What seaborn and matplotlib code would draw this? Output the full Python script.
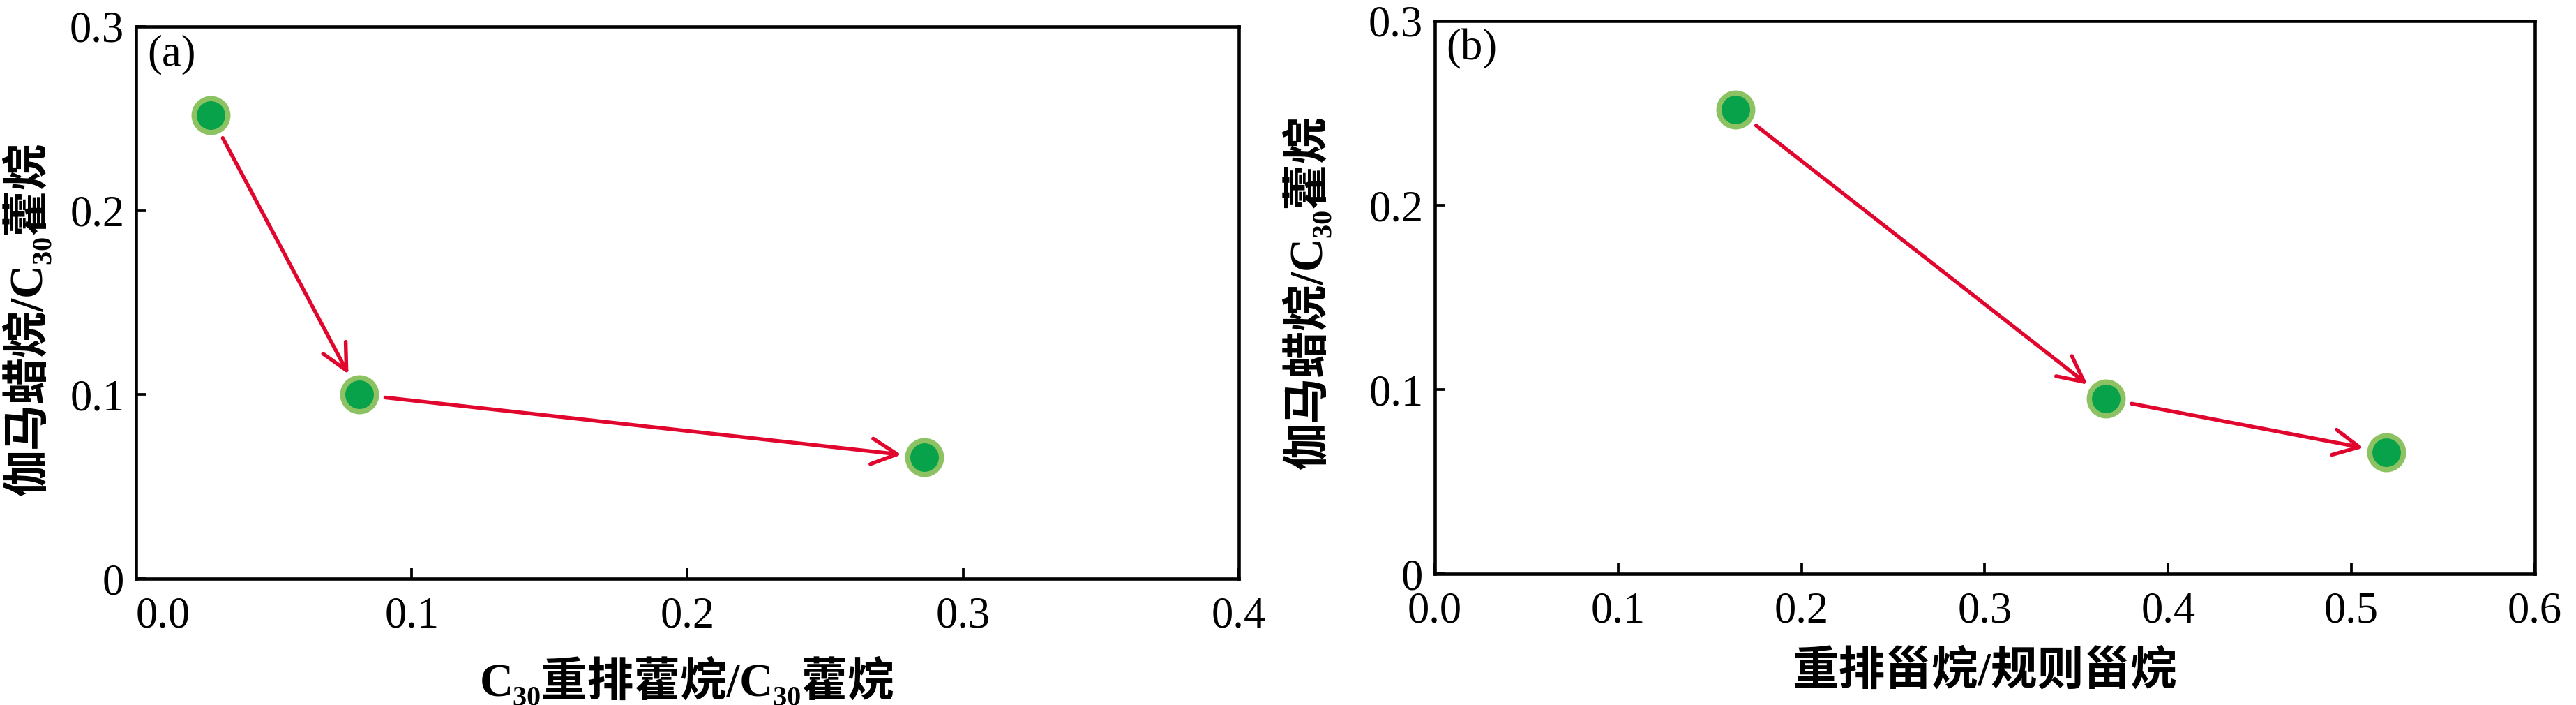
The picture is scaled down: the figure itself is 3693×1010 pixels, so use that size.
import numpy as np
import pandas as pd
import seaborn as sns
import matplotlib
matplotlib.use('Agg')
from matplotlib import pyplot as plt

# (a) C30 diahopane/C30 hopane vs gammacerane/C30 hopane
a_x = [0.027, 0.081, 0.286]
a_y = [0.252, 0.100, 0.066]
# (b) rearranged sterane/regular sterane vs gammacerane/C30 hopane
b_x = [0.164, 0.366, 0.519]
b_y = [0.252, 0.095, 0.066]

a_xticks = [0.0, 0.1, 0.2, 0.3, 0.4]
b_xticks = [0.0, 0.1, 0.2, 0.3, 0.4, 0.5, 0.6]
yticks = [0.0, 0.1, 0.2, 0.3]
ytick_labels = ['0', '0.1', '0.2', '0.3']

a_xlabel = 'C₃₀重排藿烷/C₃₀藿烷'
b_xlabel = '重排甾烷/规则甾烷'
ylabel = '伽马蜡烷/C₃₀藿烷'

POINT = '#08A24A'
EDGE = '#8DC262'
ARROW = '#E0062E'

sns.set_theme(style='ticks')
plt.rcParams['font.family'] = ['Liberation Serif', 'Noto Sans CJK SC', 'DejaVu Sans']
plt.rcParams['axes.unicode_minus'] = False


def draw_panel(ax, xs, ys, xticks, xlabel, tag, ylab_pos, xlab_y):
    df = pd.DataFrame({'x': xs, 'y': ys})
    sns.scatterplot(data=df, x='x', y='y', ax=ax, s=135, color=POINT,
                    edgecolor=EDGE, linewidth=1.8, zorder=3)
    # arrows between consecutive points
    for i in range(len(xs) - 1):
        ax.annotate('', xy=(xs[i + 1], ys[i + 1]), xytext=(xs[i], ys[i]),
                    arrowprops=dict(arrowstyle='->', color=ARROW, lw=1.3,
                                    shrinkA=9, shrinkB=8, mutation_scale=22),
                    zorder=2)
    ax.set_xlim(xticks[0], xticks[-1])
    ax.set_ylim(0, 0.3)
    ax.set_xticks(xticks)
    ax.set_xticklabels([f'{v:.1f}' for v in xticks])
    ax.set_yticks(yticks)
    ax.set_yticklabels(ytick_labels)
    ax.tick_params(direction='in', length=3.5, width=0.9, labelsize=15,
                   pad=4, colors='black', top=False, right=False)
    ax.tick_params(axis='x', pad=6)
    for s in ax.spines.values():
        s.set_visible(True)
        s.set_linewidth(1.1)
        s.set_color('black')
    ax.set_xlabel(xlabel, fontsize=16, fontweight='bold', color='black')
    ax.xaxis.label.set_va('center')
    ax.xaxis.set_label_coords(0.5, xlab_y)
    ax.set_ylabel(ylabel, fontsize=16, fontweight='bold', color='black')
    ax.yaxis.set_label_coords(*ylab_pos)
    ax.text(0.01, 0.985, tag, transform=ax.transAxes, ha='left', va='top',
            fontsize=15, color='black')


fig = plt.figure(figsize=(3693 / 300, 1010 / 300), dpi=300)
ax_a = fig.add_axes([0.0528, 0.1792, 0.4281, 0.7832])
ax_b = fig.add_axes([0.5570, 0.1861, 0.4270, 0.7842])

draw_panel(ax_a, a_x, a_y, a_xticks, a_xlabel, '(a)', (-0.077, 0.47), -0.185)
draw_panel(ax_b, b_x, b_y, b_xticks, b_xlabel, '(b)', (-0.094, 0.509), -0.178)

# first x label of (a) sits right of the corner tick
ax_a.get_xticklabels()[0].set_ha('left')

fig.savefig('out.png', dpi=300)
